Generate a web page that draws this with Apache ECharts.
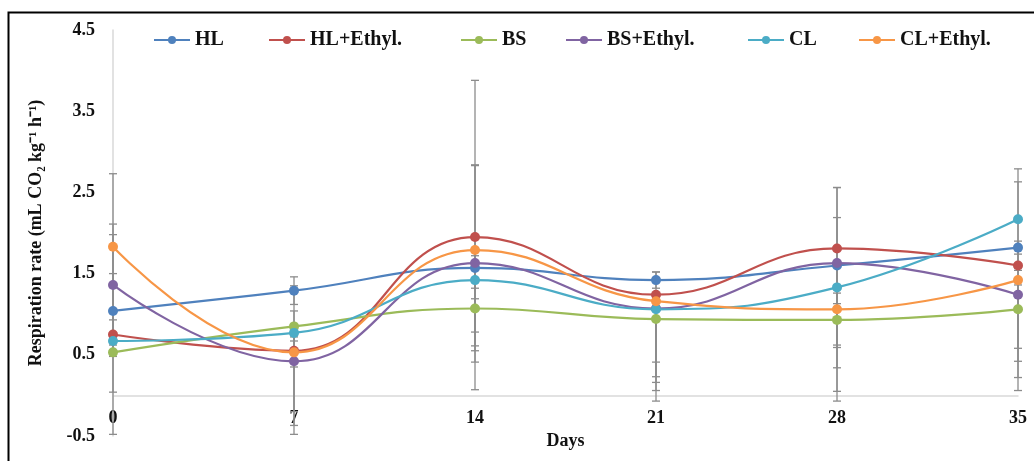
<!DOCTYPE html>
<html>
<head>
<meta charset="utf-8">
<script src="https://cdn.jsdelivr.net/npm/echarts@6/dist/echarts.min.js"></script>
<style>
html,body{margin:0;padding:0;background:#fff;}
#c{width:1034px;height:461px;}
</style>
</head>
<body>
<div id="c"></div>
<script>
// ---- data ----
var days = [0, 7, 14, 21, 28, 35];
var yTicks = [-0.5, 0.5, 1.5, 2.5, 3.5, 4.5];
var seriesNames = ['HL', 'HL+Ethyl.', 'BS', 'BS+Ethyl.', 'CL', 'CL+Ethyl.'];
var HL       = [1.04, 1.29, 1.57, 1.42, 1.60, 1.82];
var HL_Ethyl = [0.75, 0.55, 1.95, 1.24, 1.81, 1.60];
var BS       = [0.53, 0.85, 1.07, 0.94, 0.93, 1.06];
var BS_Ethyl = [1.36, 0.42, 1.63, 1.07, 1.63, 1.24];
var CL       = [0.67, 0.77, 1.42, 1.06, 1.33, 2.17];
var CL_Ethyl = [1.83, 0.53, 1.79, 1.16, 1.06, 1.42];
// error bar amounts (plus / minus)
var HL_errUp         = [1.07, 0.17, 0.25, 0.10, 0.96, 0.08];
var HL_errDown       = [1.00, 0.17, 0.25, 0.10, 1.01, 0.08];
var HL_Ethyl_errUp   = [0.27, 0.49, 1.93, 0.28, 0.75, 1.03];
var HL_Ethyl_errDown = [0.27, 0.75, 1.88, 1.08, 0.75, 1.02];
var BS_errUp         = [0.97, 0.50, 0.12, 0.10, 0.20, 0.30];
var BS_errDown       = [1.01, 0.50, 0.52, 0.53, 1.00, 1.00];
var BS_Ethyl_errUp   = [0.62, 0.30, 1.20, 0.10, 0.56, 0.30];
var BS_Ethyl_errDown = [0.60, 0.90, 1.22, 1.01, 1.01, 1.02];
var CL_errUp         = [0.05, 0.10, 0.30, 0.10, 0.30, 0.62];
var CL_errDown       = [0.05, 0.10, 0.81, 1.13, 1.28, 0.60];
var CL_Ethyl_errUp   = [0.90, 0.30, 1.05, 0.10, 0.20, 0.40];
var CL_Ethyl_errDown = [0.90, 0.90, 1.01, 0.93, 0.72, 1.00];

var values = [HL, HL_Ethyl, BS, BS_Ethyl, CL, CL_Ethyl];
var ups = [HL_errUp, HL_Ethyl_errUp, BS_errUp, BS_Ethyl_errUp, CL_errUp, CL_Ethyl_errUp];
var downs = [HL_errDown, HL_Ethyl_errDown, BS_errDown, BS_Ethyl_errDown, CL_errDown, CL_Ethyl_errDown];
var colors = ['#4F81BD', '#C0504D', '#9BBB59', '#8064A2', '#4BACC6', '#F79646'];
var legendLeft = [148, 263, 455, 560, 742, 853];

var serif = '"Liberation Serif", "Times New Roman", serif';
var chart = echarts.init(document.getElementById('c'));

var series = [];
// error bars
values.forEach(function (vals, si) {
  var d = days.map(function (x, i) {
    return [x, vals[i] - downs[si][i], vals[i] + ups[si][i]];
  });
  series.push({
    type: 'custom',
    name: 'err' + si,
    z: 1,
    silent: true,
    data: d,
    encode: { x: 0, y: [1, 2] },
    renderItem: function (params, api) {
      var x = api.value(0);
      var lo = api.coord([x, api.value(1)]);
      var hi = api.coord([x, api.value(2)]);
      var w = 4;
      var st = { stroke: '#8c8c8c', lineWidth: 1.3 };
      return {
        type: 'group',
        children: [
          { type: 'line', shape: { x1: lo[0], y1: lo[1], x2: hi[0], y2: hi[1] }, style: st },
          { type: 'line', shape: { x1: lo[0] - w, y1: lo[1], x2: lo[0] + w, y2: lo[1] }, style: st },
          { type: 'line', shape: { x1: hi[0] - w, y1: hi[1], x2: hi[0] + w, y2: hi[1] }, style: st }
        ]
      };
    }
  });
});
// lines
values.forEach(function (vals, si) {
  series.push({
    type: 'line',
    name: seriesNames[si],
    z: 3,
    smooth: 0.45,
    symbol: 'circle',
    symbolSize: 10,
    color: colors[si],
    lineStyle: { width: 2.2, color: colors[si] },
    itemStyle: { color: colors[si] },
    data: days.map(function (x, i) { return [x, vals[i]]; })
  });
});

var legends = seriesNames.map(function (n, i) {
  return {
    data: [n],
    left: legendLeft[i],
    top: 25,
    itemWidth: 36,
    itemHeight: 10,
    textStyle: { fontFamily: serif, fontWeight: 'bold', fontSize: 20, color: '#111' }
  };
});

chart.setOption({
  animation: false,
  backgroundColor: '#fff',
  graphic: [{
    type: 'rect',
    shape: { x: 8.5, y: 12.5, width: 1100, height: 500 },
    style: { fill: 'none', stroke: '#000', lineWidth: 2 },
    z: 100
  }],
  legend: legends,
  grid: { left: 113, right: 16, top: 30, bottom: 25, containLabel: false, outerBoundsMode: 'none' },
  xAxis: {
    type: 'value',
    min: 0, max: 35, interval: 7,
    name: 'Days',
    nameLocation: 'middle',
    nameGap: -5,
    nameTextStyle: { fontFamily: serif, fontWeight: 'bold', fontSize: 18, color: '#111' },
    axisLine: { onZero: true, lineStyle: { color: '#d9d9d9', width: 1.5 } },
    axisTick: { show: false },
    splitLine: { show: false },
    axisLabel: { margin: -27, fontFamily: serif, fontWeight: 'bold', fontSize: 18, color: '#111' }
  },
  yAxis: {
    type: 'value',
    min: yTicks[0], max: yTicks[yTicks.length - 1], interval: 1,
    name: 'Respiration rate (mL CO\u2082 kg\u207B\u00B9 h\u207B\u00B9)',
    nameLocation: 'middle',
    nameGap: 68,
    nameTextStyle: { fontFamily: serif, fontWeight: 'bold', fontSize: 18, color: '#111' },
    axisLine: { show: true, onZero: false, lineStyle: { color: '#d9d9d9', width: 1.5 } },
    axisTick: { show: false },
    splitLine: { show: false },
    axisLabel: { margin: 18, fontFamily: serif, fontWeight: 'bold', fontSize: 18, color: '#111',
      formatter: function (v) { return v.toFixed(1); } }
  },
  series: series
});
</script>
</body>
</html>
